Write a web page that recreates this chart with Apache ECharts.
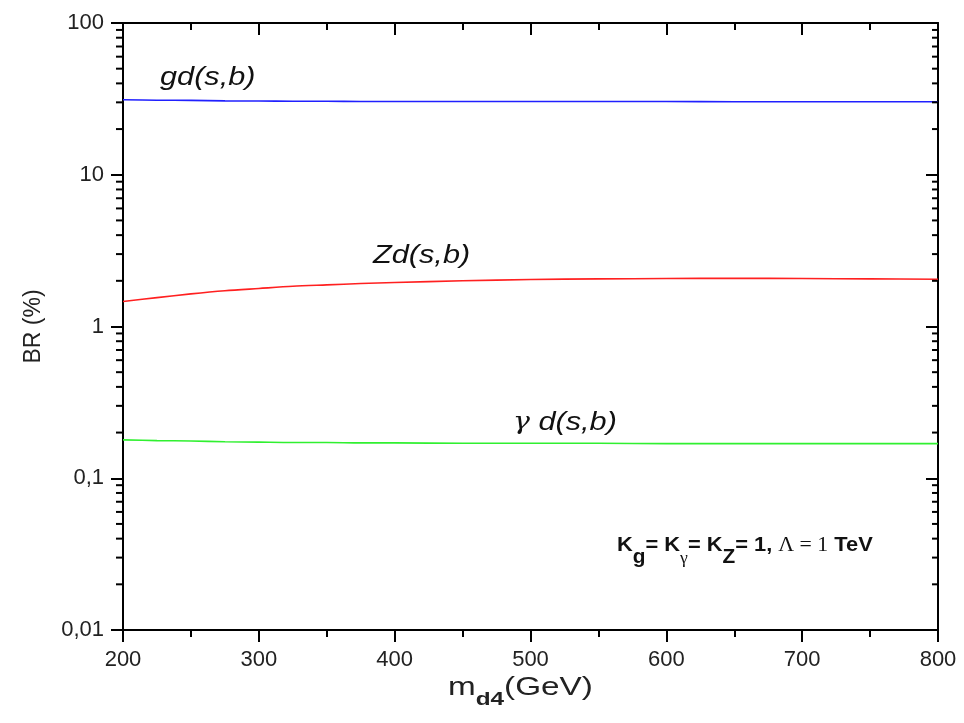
<!DOCTYPE html>
<html><head><meta charset="utf-8">
<script src="https://cdn.jsdelivr.net/npm/echarts@6/dist/echarts.min.js"></script>
<style>html,body{margin:0;padding:0;background:#fff}#c{width:964px;height:723px}</style>
</head><body><div id="c"></div>
<script>
const mass = [200,225,250,275,300,325,350,375,400,450,500,550,600,650,700,750,800];
const brGluon = [31.2,31.0,30.9,30.7,30.6,30.5,30.5,30.4,30.4,30.4,30.4,30.4,30.4,30.3,30.3,30.3,30.3];
const brZ = [1.46,1.55,1.64,1.72,1.78,1.84,1.88,1.92,1.95,2.0,2.04,2.06,2.07,2.08,2.07,2.06,2.05];
const brPhoton = [0.179,0.177,0.176,0.174,0.173,0.172,0.172,0.171,0.171,0.170,0.170,0.170,0.169,0.169,0.169,0.169,0.169];
const yTickLabels = ['0,01','0,1','1','10','100'];
const decades = [0.01,0.1,1,10];
const minorTickValues = [];
decades.forEach(d => { for (let k = 2; k <= 9; k++) minorTickValues.push(+(d*k).toPrecision(3)); });

const FONT = '"Liberation Sans", Arial, sans-serif';
const pair = (xs, ys) => xs.map((x,i)=>[x, ys[i]]);

const chart = echarts.init(document.getElementById('c'), null, {renderer:'canvas'});
const axisLine = {show:true, onZero:false, lineStyle:{color:'#000', width:2}};
chart.setOption({
  animation:false,
  backgroundColor:'#fff',
  grid:{left:123, right:26, top:23, bottom:93, containLabel:false},
  xAxis:[{
    type:'value', min:200, max:800, interval:100, position:'bottom',
    axisLine, splitLine:{show:false},
    axisTick:{show:true, inside:false, length:12, lineStyle:{color:'#000', width:2}},
    minorTick:{show:true, splitNumber:2, length:7, lineStyle:{color:'#000', width:2}},
    axisLabel:{color:'#222', fontSize:22, fontFamily:FONT, margin:19}
  },{
    type:'value', min:200, max:800, interval:100, position:'top',
    axisLine, splitLine:{show:false},
    axisTick:{show:true, inside:true, length:12, lineStyle:{color:'#000', width:2}},
    minorTick:{show:true, splitNumber:2, length:7, lineStyle:{color:'#000', width:2}},
    axisLabel:{show:false}
  }],
  yAxis:[{
    type:'log', logBase:10, min:0.01, max:100, position:'left',
    name:'BR (%)', nameLocation:'middle', nameGap:78,
    nameTextStyle:{fontSize:23, color:'#222', fontFamily:FONT},
    axisLine, splitLine:{show:false},
    axisTick:{show:true, inside:false, length:12, lineStyle:{color:'#000', width:2}},
    axisLabel:{color:'#222', fontSize:22, fontFamily:FONT, margin:19,
      formatter: v => yTickLabels[Math.round(Math.log10(v)) + 2]}
  },{
    type:'log', logBase:10, min:0.01, max:100, position:'right',
    axisLine, splitLine:{show:false},
    axisTick:{show:true, inside:true, length:12, lineStyle:{color:'#000', width:2}},
    axisLabel:{show:false}
  }],
  series:[
    {type:'line', name:'gd(s,b)', data:pair(mass, brGluon), showSymbol:false, smooth:0.3,
     lineStyle:{color:'#2020ff', width:1.6}, z:3},
    {type:'line', name:'Zd(s,b)', data:pair(mass, brZ), showSymbol:false, smooth:0.3,
     lineStyle:{color:'#ff2020', width:1.6}, z:3},
    {type:'line', name:'γd(s,b)', data:pair(mass, brPhoton), showSymbol:false, smooth:0.3,
     lineStyle:{color:'#30f030', width:1.6}, z:3},
    {type:'custom', silent:true, clip:false, z:5,
     data: minorTickValues.map(v => [200, v]),
     renderItem:(params, api) => {
       const v = api.value(1);
       const L = api.coord([200, v]);
       const R = api.coord([800, v]);
       return {type:'group', children:[
         {type:'line', shape:{x1:L[0]-7, y1:L[1], x2:L[0], y2:L[1]}, style:{stroke:'#000', lineWidth:2}},
         {type:'line', shape:{x1:R[0]-6, y1:R[1], x2:R[0], y2:R[1]}, style:{stroke:'#000', lineWidth:2}}
       ]};
     }}
  ],
  graphic:[
    {type:'text', x:160, y:78, scaleX:1.18, style:{text:'gd(s,b)', font:'italic 26px ' + FONT, fill:'#111', verticalAlign:'middle'}},
    {type:'text', x:373, y:256, scaleX:1.18, style:{text:'Zd(s,b)', font:'italic 26px ' + FONT, fill:'#111', verticalAlign:'middle'}},
    {type:'text', x:513, y:423, scaleX:1.18, style:{text:'{g|γ} d(s,b)', font:'italic 26px ' + FONT, fill:'#111', verticalAlign:'middle',
      rich:{g:{font:'italic 24px "DejaVu Serif", serif', fill:'#111'}}}},
    {type:'text', x:448, y:692, scaleX:1.28, style:{text:'{m|m}{s|d4}{m|(GeV)}', verticalAlign:'middle',
      rich:{m:{font:'26px ' + FONT, fill:'#222', verticalAlign:'top'},
            s:{font:'bold 19px ' + FONT, fill:'#222', verticalAlign:'bottom', padding:[15,0,0,0]}}}},
    {type:'text', x:617, y:551, scaleX:1.04, style:{verticalAlign:'middle',
      text:'{b|K}{s|g}{b|= K}{sg|γ}{b|= K}{s|Z}{b|= 1, }{t|Λ = 1}{b| TeV}',
      rich:{b:{font:'bold 21px ' + FONT, fill:'#111', verticalAlign:'top'},
            s:{font:'bold 20px ' + FONT, fill:'#111', verticalAlign:'bottom', padding:[12,0,0,0]},
            sg:{font:'17px "Liberation Serif", serif', fill:'#111', verticalAlign:'bottom', padding:[12,0,0,0]},
            t:{font:'21px "Liberation Serif", serif', fill:'#111', verticalAlign:'top'}}}}
  ]
});
</script></body></html>
